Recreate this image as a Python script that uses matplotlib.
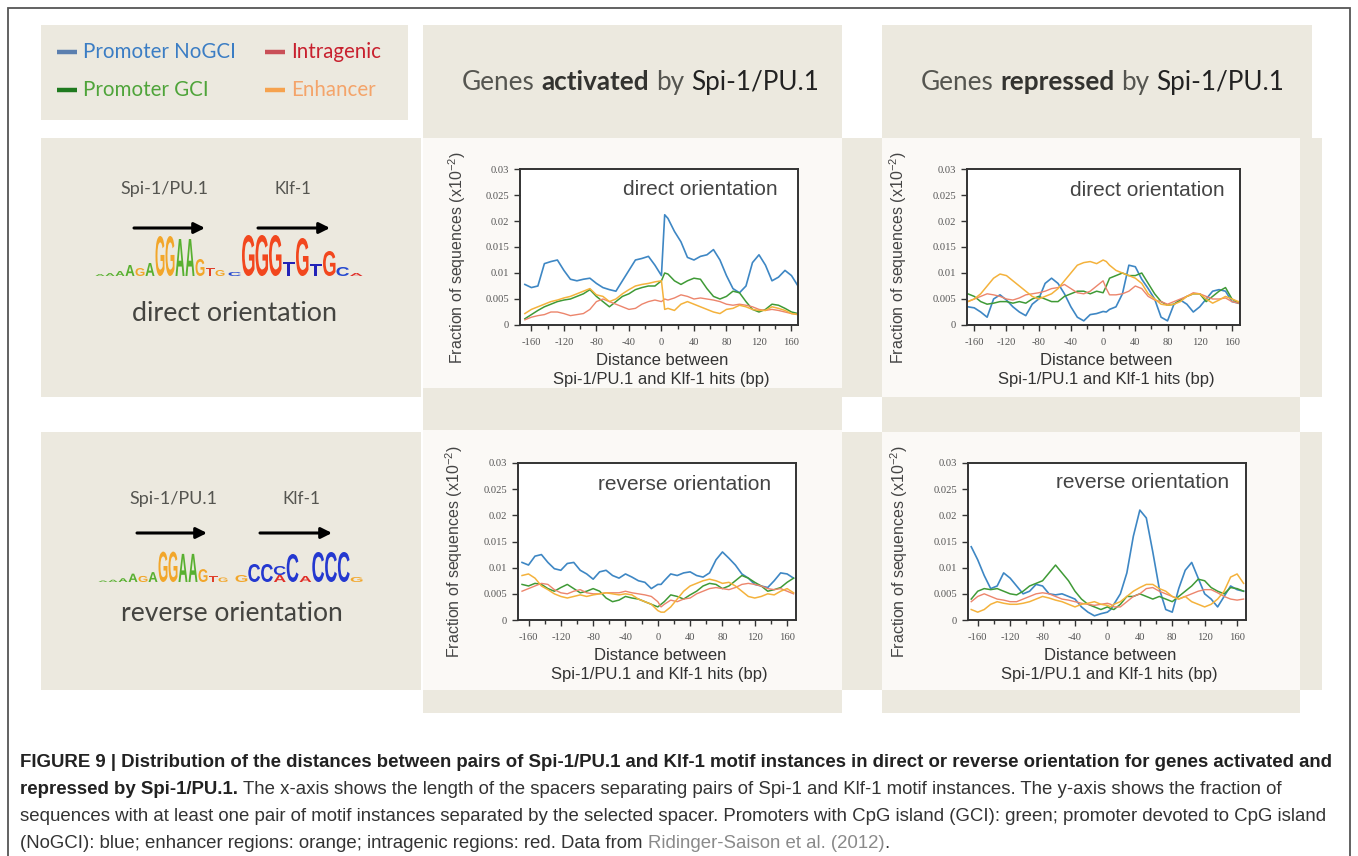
import matplotlib
matplotlib.use("Agg")
import matplotlib.pyplot as plt
from matplotlib.patches import Rectangle, PathPatch
from matplotlib.textpath import TextPath
from matplotlib.font_manager import FontProperties, findfont
from matplotlib.path import Path
import numpy as np

# ---------------- data ----------------
dist = [-168, -160, -152, -144, -136, -128, -120, -112, -104, -96, -88, -80, -72, -64, -56, -48,
        -40, -32, -24, -16, -8, 0, 4, 8, 16, 24, 32, 40, 48, 56, 64, 72, 80, 88, 96, 104, 112,
        120, 128, 136, 144, 152, 160, 168]

x_ticks = [-160, -120, -80, -40, 0, 40, 80, 120, 160]
y_ticks = [0, 0.005, 0.01, 0.015, 0.02, 0.025, 0.03]
y_tick_labels = ['0', '0.005', '0.01', '0.015', '0.02', '0.025', '0.03']
series_names = ['Promoter NoGCI', 'Intragenic', 'Promoter GCI', 'Enhancer']

# genes activated, direct orientation
act_dir_nogci = [0.0078, 0.0072, 0.0075, 0.0118, 0.0122, 0.0125, 0.0105, 0.0088, 0.0085, 0.0088, 0.0090,
                 0.0080, 0.0072, 0.0068, 0.0065, 0.0085, 0.0105, 0.0125, 0.0128, 0.0132, 0.0115, 0.0095,
                 0.0212, 0.0205, 0.0180, 0.0160, 0.0130, 0.0125, 0.0132, 0.0135, 0.0145, 0.0125, 0.0095,
                 0.0070, 0.0062, 0.0075, 0.0120, 0.0135, 0.0115, 0.0085, 0.0092, 0.0105, 0.0095, 0.0075]
act_dir_gci = [0.0012, 0.0020, 0.0028, 0.0035, 0.0040, 0.0045, 0.0048, 0.0050, 0.0055, 0.0060, 0.0068,
               0.0055, 0.0045, 0.0035, 0.0045, 0.0055, 0.0060, 0.0068, 0.0072, 0.0075, 0.0075, 0.0085,
               0.0100, 0.0098, 0.0085, 0.0078, 0.0085, 0.0090, 0.0088, 0.0070, 0.0055, 0.0050, 0.0055,
               0.0065, 0.0062, 0.0045, 0.0030, 0.0025, 0.0030, 0.0040, 0.0038, 0.0032, 0.0025, 0.0022]
act_dir_enh = [0.0022, 0.0030, 0.0035, 0.0040, 0.0045, 0.0048, 0.0052, 0.0055, 0.0060, 0.0065, 0.0070,
               0.0058, 0.0055, 0.0045, 0.0050, 0.0060, 0.0068, 0.0075, 0.0078, 0.0080, 0.0083, 0.0085,
               0.0030, 0.0032, 0.0028, 0.0040, 0.0045, 0.0040, 0.0035, 0.0030, 0.0025, 0.0022, 0.0030,
               0.0032, 0.0038, 0.0035, 0.0030, 0.0028, 0.0028, 0.0035, 0.0032, 0.0028, 0.0022, 0.0020]
act_dir_intra = [0.0010, 0.0015, 0.0018, 0.0020, 0.0025, 0.0025, 0.0022, 0.0018, 0.0020, 0.0022, 0.0030,
                 0.0045, 0.0050, 0.0045, 0.0040, 0.0035, 0.0030, 0.0032, 0.0040, 0.0045, 0.0048, 0.0045,
                 0.0050, 0.0048, 0.0052, 0.0058, 0.0055, 0.0050, 0.0052, 0.0050, 0.0048, 0.0045, 0.0040,
                 0.0038, 0.0040, 0.0038, 0.0035, 0.0030, 0.0028, 0.0030, 0.0028, 0.0025, 0.0022, 0.0020]

# genes repressed, direct orientation
rep_dir_nogci = [0.0035, 0.0033, 0.0025, 0.0015, 0.0050, 0.0058, 0.0048, 0.0035, 0.0025, 0.0018, 0.0040,
                 0.0050, 0.0080, 0.0090, 0.0080, 0.0060, 0.0035, 0.0015, 0.0008, 0.0020, 0.0022, 0.0026,
                 0.0025, 0.0030, 0.0035, 0.0060, 0.0115, 0.0112, 0.0088, 0.0070, 0.0050, 0.0015, 0.0008,
                 0.0040, 0.0048, 0.0040, 0.0025, 0.0035, 0.0050, 0.0065, 0.0068, 0.0065, 0.0045, 0.0042]
rep_dir_gci = [0.0060, 0.0055, 0.0045, 0.0040, 0.0042, 0.0045, 0.0045, 0.0042, 0.0045, 0.0042, 0.0050,
               0.0055, 0.0050, 0.0045, 0.0045, 0.0055, 0.0060, 0.0065, 0.0065, 0.0060, 0.0065, 0.0062,
               0.0075, 0.0090, 0.0095, 0.0100, 0.0095, 0.0095, 0.0100, 0.0080, 0.0060, 0.0045, 0.0038,
               0.0040, 0.0048, 0.0055, 0.0060, 0.0060, 0.0045, 0.0055, 0.0065, 0.0072, 0.0050, 0.0042]
rep_dir_enh = [0.0045, 0.0050, 0.0060, 0.0075, 0.0090, 0.0098, 0.0095, 0.0085, 0.0075, 0.0065, 0.0055,
               0.0050, 0.0055, 0.0060, 0.0070, 0.0085, 0.0100, 0.0115, 0.0120, 0.0122, 0.0118, 0.0125,
               0.0122, 0.0115, 0.0105, 0.0100, 0.0095, 0.0090, 0.0080, 0.0060, 0.0050, 0.0040, 0.0038,
               0.0040, 0.0045, 0.0055, 0.0060, 0.0060, 0.0050, 0.0042, 0.0048, 0.0055, 0.0050, 0.0045]
rep_dir_intra = [0.0045, 0.0050, 0.0055, 0.0060, 0.0058, 0.0055, 0.0050, 0.0048, 0.0052, 0.0058, 0.0060,
                 0.0062, 0.0065, 0.0070, 0.0072, 0.0078, 0.0070, 0.0062, 0.0060, 0.0065, 0.0075, 0.0085,
                 0.0070, 0.0058, 0.0058, 0.0060, 0.0065, 0.0075, 0.0070, 0.0055, 0.0048, 0.0045, 0.0040,
                 0.0045, 0.0050, 0.0055, 0.0062, 0.0060, 0.0055, 0.0050, 0.0050, 0.0052, 0.0045, 0.0042]

# genes activated, reverse orientation
act_rev_nogci = [0.0110, 0.0105, 0.0122, 0.0125, 0.0110, 0.0098, 0.0095, 0.0108, 0.0110, 0.0095, 0.0088,
                 0.0078, 0.0092, 0.0095, 0.0085, 0.0080, 0.0088, 0.0082, 0.0075, 0.0072, 0.0060, 0.0068,
                 0.0068, 0.0075, 0.0088, 0.0085, 0.0090, 0.0092, 0.0085, 0.0082, 0.0090, 0.0115, 0.0130,
                 0.0118, 0.0105, 0.0088, 0.0080, 0.0068, 0.0065, 0.0062, 0.0075, 0.0090, 0.0088, 0.0080]
act_rev_gci = [0.0068, 0.0065, 0.0070, 0.0068, 0.0060, 0.0055, 0.0062, 0.0068, 0.0060, 0.0052, 0.0055,
               0.0060, 0.0055, 0.0042, 0.0035, 0.0038, 0.0045, 0.0042, 0.0040, 0.0035, 0.0030, 0.0025,
               0.0030, 0.0035, 0.0048, 0.0045, 0.0040, 0.0048, 0.0055, 0.0065, 0.0070, 0.0068, 0.0060,
               0.0065, 0.0075, 0.0085, 0.0080, 0.0072, 0.0065, 0.0055, 0.0058, 0.0062, 0.0072, 0.0080]
act_rev_enh = [0.0085, 0.0088, 0.0080, 0.0065, 0.0058, 0.0050, 0.0045, 0.0042, 0.0045, 0.0048, 0.0045,
               0.0048, 0.0050, 0.0052, 0.0050, 0.0048, 0.0050, 0.0048, 0.0040, 0.0035, 0.0030, 0.0018,
               0.0015, 0.0015, 0.0025, 0.0040, 0.0055, 0.0065, 0.0070, 0.0075, 0.0078, 0.0075, 0.0070,
               0.0072, 0.0065, 0.0055, 0.0045, 0.0042, 0.0045, 0.0050, 0.0048, 0.0055, 0.0060, 0.0052]
act_rev_intra = [0.0055, 0.0060, 0.0065, 0.0070, 0.0068, 0.0058, 0.0052, 0.0050, 0.0055, 0.0058, 0.0052,
                 0.0050, 0.0050, 0.0052, 0.0052, 0.0052, 0.0055, 0.0052, 0.0050, 0.0048, 0.0045, 0.0035,
                 0.0025, 0.0030, 0.0038, 0.0035, 0.0040, 0.0042, 0.0050, 0.0055, 0.0060, 0.0062, 0.0060,
                 0.0058, 0.0062, 0.0068, 0.0070, 0.0068, 0.0065, 0.0060, 0.0058, 0.0060, 0.0055, 0.0050]

# genes repressed, reverse orientation
rep_rev_nogci = [0.0140, 0.0115, 0.0085, 0.0060, 0.0065, 0.0090, 0.0080, 0.0065, 0.0050, 0.0055, 0.0068,
                 0.0065, 0.0050, 0.0048, 0.0050, 0.0045, 0.0040, 0.0025, 0.0015, 0.0008, 0.0012, 0.0015,
                 0.0020, 0.0030, 0.0050, 0.0090, 0.0160, 0.0210, 0.0195, 0.0130, 0.0060, 0.0020, 0.0015,
                 0.0060, 0.0095, 0.0110, 0.0080, 0.0050, 0.0040, 0.0025, 0.0045, 0.0065, 0.0058, 0.0055]
rep_rev_gci = [0.0040, 0.0055, 0.0060, 0.0058, 0.0060, 0.0055, 0.0050, 0.0048, 0.0055, 0.0065, 0.0070,
               0.0075, 0.0090, 0.0105, 0.0090, 0.0075, 0.0055, 0.0040, 0.0030, 0.0025, 0.0020, 0.0025,
               0.0022, 0.0020, 0.0030, 0.0045, 0.0045, 0.0050, 0.0045, 0.0040, 0.0045, 0.0040, 0.0035,
               0.0045, 0.0055, 0.0065, 0.0078, 0.0075, 0.0062, 0.0055, 0.0050, 0.0062, 0.0060, 0.0055]
rep_rev_enh = [0.0020, 0.0015, 0.0020, 0.0030, 0.0035, 0.0032, 0.0030, 0.0030, 0.0032, 0.0035, 0.0040,
               0.0045, 0.0042, 0.0038, 0.0035, 0.0030, 0.0025, 0.0030, 0.0032, 0.0035, 0.0030, 0.0028,
               0.0025, 0.0030, 0.0035, 0.0045, 0.0055, 0.0062, 0.0068, 0.0068, 0.0060, 0.0055, 0.0045,
               0.0040, 0.0045, 0.0035, 0.0030, 0.0025, 0.0030, 0.0040, 0.0055, 0.0082, 0.0088, 0.0070]
rep_rev_intra = [0.0035, 0.0045, 0.0050, 0.0045, 0.0040, 0.0038, 0.0035, 0.0035, 0.0040, 0.0045, 0.0050,
                 0.0052, 0.0050, 0.0045, 0.0040, 0.0038, 0.0035, 0.0032, 0.0030, 0.0028, 0.0030, 0.0032,
                 0.0030, 0.0025, 0.0025, 0.0035, 0.0045, 0.0050, 0.0060, 0.0062, 0.0055, 0.0050, 0.0045,
                 0.0040, 0.0045, 0.0050, 0.0055, 0.0058, 0.0058, 0.0052, 0.0045, 0.0040, 0.0038, 0.0040]

# sequence logos: columns of (letter, height in px) stacks, bottom to top
spi_logo = [[('A', 2)], [('A', 3)], [('A', 5)], [('A', 11)], [('G', 8)], [('A', 13)],
            [('G', 40)], [('G', 40)], [('A', 37)], [('A', 37)], [('G', 17)], [('T', 8)], [('G', 6)]]
klf_dir_logo = [[('C', 4)], [('G', 41)], [('G', 41)], [('G', 41)], [('T', 14)], [('G', 38)],
                [('T', 12)], [('G', 25)], [('C', 9)], [('A', 3)]]
klf_rev_logo = [[('G', 7)], [('C', 18)], [('C', 18)], [('A', 7), ('C', 9)], [('C', 28)], [('A', 6)],
                [('C', 30)], [('C', 30)], [('C', 30)], [('G', 5)]]

# ---------------- fonts ----------------
def has_font(name):
    try:
        findfont(FontProperties(family=name), fallback_to_default=False)
        return True
    except Exception:
        return False

def pick(*names):
    for n in names:
        if has_font(n):
            return n
    return 'DejaVu Sans'

CAL = pick('Lato', 'Open Sans', 'DejaVu Sans')
ARIAL = pick('Liberation Sans', 'DejaVu Sans')
NARROW = pick('Liberation Sans Narrow', 'Liberation Sans', 'DejaVu Sans')
SERIF = pick('Liberation Serif', 'DejaVu Serif')

plt.rcParams['mathtext.fontset'] = 'custom'
plt.rcParams['mathtext.rm'] = ARIAL
plt.rcParams['mathtext.default'] = 'regular'
plt.rcParams['axes.unicode_minus'] = False

# ---------------- colours ----------------
BEIGE = '#ECE9DF'
LIGHT = '#FBF9F6'
C_BLUE = '#3E87C4'
C_GREEN = '#3F9A36'
C_ORANGE = '#F4B23C'
C_RED = '#EC856C'

W, H, DPI = 1358, 856, 100
fig = plt.figure(figsize=(W / DPI, H / DPI), dpi=DPI)
fig.patch.set_facecolor('white')
bg = fig.add_axes([0, 0, 1, 1], zorder=0)
bg.set_xlim(0, W)
bg.set_ylim(H, 0)
bg.axis('off')
renderer = fig.canvas.get_renderer()

# ---------------- background panels ----------------
panels = [
    ((41, 25, 408, 120), BEIGE), ((423, 25, 842, 138), BEIGE), ((882, 25, 1312, 138), BEIGE),
    ((41, 138, 421, 397), BEIGE), ((423, 138, 842, 388), LIGHT), ((423, 388, 842, 430), BEIGE),
    ((842, 138, 882, 397), BEIGE), ((882, 138, 1300, 397), LIGHT), ((1300, 138, 1322, 397), BEIGE),
    ((882, 397, 1300, 432), BEIGE), ((41, 432, 421, 690), BEIGE), ((423, 430, 842, 690), LIGHT),
    ((842, 432, 882, 690), BEIGE), ((882, 432, 1300, 690), LIGHT), ((1300, 432, 1322, 690), BEIGE),
    ((423, 690, 842, 713), BEIGE), ((882, 690, 1300, 713), BEIGE),
]
for (x0, y0, x1, y1), c in panels:
    bg.add_patch(Rectangle((x0, y0), x1 - x0, y1 - y0, fc=c, ec='none'))

# outer border
bg.plot([8, 8, 1350, 1350], [H + 5, 8, 8, H + 5], color='#555555', lw=1.3, solid_joinstyle='miter')


# ---------------- text helpers ----------------
def _w(s, props):
    t = bg.text(0, 0, s, **props)
    w = t.get_window_extent(renderer).width
    t.remove()
    return w


def run_text(x, y, segs, size, fit=None, ha='left', va='baseline'):
    def layout(sz, draw, x0):
        cx = x0
        for s, props in segs:
            fp = dict(props)
            fp['fontsize'] = sz
            sp = _w('a a', fp) - _w('aa', fp)
            lead = len(s) - len(s.lstrip(' '))
            trail = len(s) - len(s.rstrip(' '))
            core = s.strip(' ')
            cx += lead * sp
            t = bg.text(cx, y, core, ha='left', va=va, **fp)
            w = t.get_window_extent(renderer).width
            if not draw:
                t.remove()
            cx += w + trail * sp
        return cx - x0
    if fit:
        wd = layout(size, False, x)
        size = size * fit / wd
    wd = layout(size, False, x)
    x0 = x - wd / 2 if ha == 'center' else x
    layout(size, True, x0)
    return size


# ---------------- legend ----------------
leg = [(57, 52, '#5B7FAF', 'Promoter NoGCI', '#3B7DC4'), (265, 52, '#C94F57', 'Intragenic', '#C8202E'),
       (57, 90, '#1F7A1F', 'Promoter GCI', '#4FA43A'), (265, 90, '#F6A24E', 'Enhancer', '#F4A46A')]
leg_size = None
for i, (lx, ly, dc, name, tc) in enumerate(leg):
    bg.plot([lx, lx + 20], [ly, ly], color=dc, lw=3.2, solid_capstyle='butt')
    if leg_size is None:
        leg_size = run_text(lx + 26, ly + 6, [(name, dict(family=CAL, color=tc))], 13, fit=152)
    else:
        run_text(lx + 26, ly + 6, [(name, dict(family=CAL, color=tc))], leg_size)

# ---------------- column titles ----------------
g_norm = dict(family=CAL, color='#555550')
g_bold = dict(family=CAL, color='#333330', weight='bold')
g_dark = dict(family=CAL, color='#222222')
run_text(462, 90, [('Genes ', g_norm), ('activated', g_bold), (' by ', g_norm), ('Spi-1/PU.1', g_dark)],
         15, fit=356)
run_text(921, 90, [('Genes ', g_norm), ('repressed', g_bold), (' by ', g_norm), ('Spi-1/PU.1', g_dark)],
         15, fit=364)

# ---------------- logos ----------------
LOGO_FP = FontProperties(family=ARIAL, weight='bold')
spi_cols = {'A': '#58B030', 'G': '#F2A62A', 'T': '#E0402A', 'C': '#2A5BD7'}
klf_cols = {'A': '#E0302A', 'G': '#F2471E', 'T': '#2323B8', 'C': '#2448D0'}
klf_rev_cols = {'A': '#E0302A', 'G': '#F2A62A', 'T': '#E0402A', 'C': '#2438D0'}


def draw_letter(ch, x, ybase, w, h, color):
    if h <= 0:
        return
    tp = TextPath((0, 0), ch, size=100, prop=LOGO_FP)
    v = tp.vertices.copy()
    bb = tp.get_extents()
    v[:, 0] = x + (v[:, 0] - bb.x0) / bb.width * w
    v[:, 1] = ybase - (v[:, 1] - bb.y0) / bb.height * h
    bg.add_patch(PathPatch(Path(v, tp.codes), fc=color, ec='none', lw=0))


def draw_logo(logo, x0, ybase, colw, scale, cols):
    for i, stack in enumerate(logo):
        yb = ybase
        for ch, h in stack:
            hh = h * scale
            draw_letter(ch, x0 + i * colw + 0.5, yb, colw - 1.0, hh, cols[ch])
            yb -= hh


def arrow(x0, x1, y):
    bg.annotate('', xy=(x1, y), xytext=(x0, y),
                arrowprops=dict(arrowstyle='-|>', color='black', lw=2.2, mutation_scale=16,
                                shrinkA=0, shrinkB=0))


lbl = dict(family=CAL, color='#555550')
# direct
run_text(164, 194, [('Spi-1/PU.1', lbl)], 11, fit=88, ha='center')
run_text(293, 194, [('Klf-1', lbl)], 11, fit=37, ha='center')
arrow(134, 205, 228)
arrow(258, 330, 228)
draw_logo(spi_logo, 95, 276, 10.0, 1.0, spi_cols)
draw_logo(klf_dir_logo, 228, 276, 13.5, 1.0, klf_cols)
run_text(235, 321, [('direct orientation', dict(family=CAL, color='#444440'))], 15, fit=205, ha='center')
# reverse
run_text(173, 504, [('Spi-1/PU.1', lbl)], 11, fit=88, ha='center')
run_text(301, 504, [('Klf-1', lbl)], 11, fit=38, ha='center')
arrow(137, 207, 533)
arrow(260, 332, 533)
draw_logo(spi_logo, 98, 582, 10.0, 0.76, spi_cols)
draw_logo(klf_rev_logo, 235, 582, 12.8, 1.0, klf_rev_cols)
run_text(232, 621, [('reverse orientation', dict(family=CAL, color='#444440'))], 15, fit=222, ha='center')

# ---------------- data plots ----------------
plots = [
    ((520, 169, 798, 325), (-174, 168), 'direct orientation', (0.65, 0.87),
     act_dir_nogci, act_dir_gci, act_dir_intra, act_dir_enh, -0.187),
    ((967, 169, 1240, 325), (-169, 170), 'direct orientation', (0.66, 0.865),
     rep_dir_nogci, rep_dir_gci, rep_dir_intra, rep_dir_enh, -0.212),
    ((518, 463, 796, 620), (-173, 171), 'reverse orientation', (0.60, 0.86),
     act_rev_nogci, act_rev_gci, act_rev_intra, act_rev_enh, -0.19),
    ((968, 463, 1246, 620), (-172, 171), 'reverse orientation', (0.627, 0.873),
     rep_rev_nogci, rep_rev_gci, rep_rev_intra, rep_rev_enh, -0.21),
]

for (l, t, r, b), xl, title, tpos, s_nogci, s_gci, s_intra, s_enh, ylx in plots:
    ax = fig.add_axes([l / W, 1 - b / H, (r - l) / W, (b - t) / H], zorder=2)
    ax.set_facecolor('white')
    ax.plot(dist, s_nogci, color=C_BLUE, lw=1.2)
    ax.plot(dist, s_gci, color=C_GREEN, lw=1.1)
    ax.plot(dist, s_intra, color=C_RED, lw=1.0)
    ax.plot(dist, s_enh, color=C_ORANGE, lw=1.1)
    ax.set_xlim(*xl)
    ax.set_ylim(0, 0.03)
    ax.set_xticks(x_ticks)
    ax.set_xticks(list(range(-160, 161, 20)), minor=True)
    ax.set_yticks(y_ticks)
    ax.set_yticklabels(y_tick_labels)
    ax.tick_params(which='both', direction='out', colors='#333333', labelcolor='#555555',
                   labelsize=7.6, width=1.0, top=False, right=False, labelfontfamily=SERIF)
    ax.tick_params(which='major', length=4.5)
    ax.tick_params(which='minor', length=3)
    ax.tick_params(axis='x', pad=5)
    for sp in ax.spines.values():
        sp.set_color('#333333')
        sp.set_linewidth(1.4)
    ax.set_ylabel('Fraction of sequences (x10$^{-2}$)', family=ARIAL, fontsize=11.5, color='#444444')
    ax.yaxis.set_label_coords(ylx, 0.435)
    ax.set_xlabel('Distance between\nSpi-1/PU.1 and Klf-1 hits (bp)', family=ARIAL, fontsize=12,
                  color='#333333', linespacing=1.3)
    ax.xaxis.set_label_coords(0.51, -0.18)
    ax.xaxis.label.set_verticalalignment('top')
    ax.text(tpos[0], tpos[1], title, transform=ax.transAxes, ha='center', va='center',
            family=ARIAL, fontsize=15, color='#444444')

# ---------------- caption ----------------
c_bold = dict(family=NARROW, color='#222222', weight='bold')
c_norm = dict(family=NARROW, color='#333333')
c_link = dict(family=NARROW, color='#8A8A8A')
cs = run_text(20, 767, [('FIGURE 9 | Distribution of the distances between pairs of Spi-1/PU.1 and Klf-1 motif '
                          'instances in direct or reverse orientation for genes activated and', c_bold)],
              10, fit=1320)
run_text(20, 794, [('repressed by Spi-1/PU.1.', c_bold),
                   (' The x-axis shows the length of the spacers separating pairs of Spi-1 and Klf-1 motif '
                    'instances. The y-axis shows the fraction of', c_norm)], cs)
run_text(20, 821, [('sequences with at least one pair of motif instances separated by the selected spacer. '
                    'Promoters with CpG island (GCI): green; promoter devoted to CpG island', c_norm)], cs)
run_text(20, 848, [('(NoGCI): blue; enhancer regions: orange; intragenic regions: red. Data from ', c_norm),
                   ('Ridinger-Saison et al. (2012)', c_link), ('.', c_norm)], cs)

fig.savefig('out.png', dpi=DPI, facecolor='white')
